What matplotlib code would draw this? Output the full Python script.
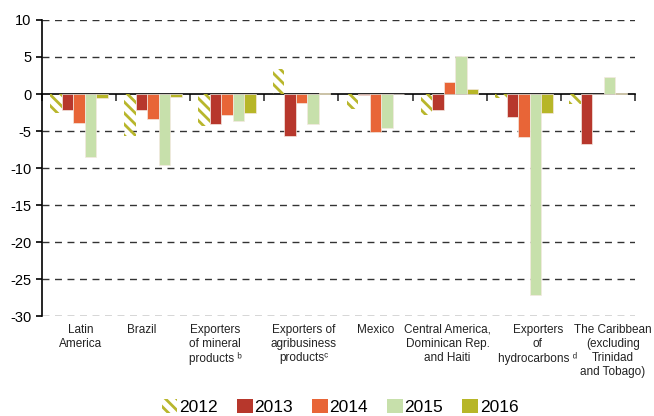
import numpy as np
import matplotlib
matplotlib.use('Agg')
import matplotlib.pyplot as plt
from matplotlib.patches import Patch
from matplotlib.transforms import blended_transform_factory

plt.rcParams['font.family'] = ['Liberation Sans', 'DejaVu Sans']
plt.rcParams['hatch.linewidth'] = 2.0

# categorias (com sobrescritos das notas)
categories = [
    'Latin\nAmerica',
    'Brazil',
    'Exporters\nof mineral\nproducts ᵇ',
    'Exporters of\nagribusiness\nproductsᶜ',
    'Mexico',
    'Central America,\nDominican Rep.\nand Haiti',
    'Exporters\nof\nhydrocarbons ᵈ',
    'The Caribbean\n(excluding\nTrinidad\nand Tobago)',
]
years = ['2012', '2013', '2014', '2015', '2016']

v2012 = [-2.5, -5.7, -4.3, 3.4, -2.0, -2.8, -0.5, -1.3]
v2013 = [-2.2, -2.2, -4.1, -5.7, -0.1, -2.2, -3.1, -6.7]
v2014 = [-3.9, -3.4, -2.9, -1.2, -5.1, 1.6, -5.8, 0.0]
v2015 = [-8.5, -9.6, -3.6, -4.0, -4.6, 5.2, -27.2, 2.3]
v2016 = [-0.6, -0.4, -2.5, 0.1, 0.0, 0.7, -2.5, 0.1]

series = [v2012, v2013, v2014, v2015, v2016]
colors = ['#B8B62C', '#B7372C', '#E86537', '#C7E0AB', '#B7B628']
hatch = '\\\\\\'

# deslocamento horizontal dos rotulos (como no original)
label_shift = [0.02, -0.15, -0.16, 0.03, 0.0, -0.03, 0.19, 0.2]

fig = plt.figure(figsize=(6.54, 4.16), dpi=100)
ax = fig.add_axes([0.064, 0.24, 0.907, 0.712])

x = np.arange(len(categories))
w = 0.155
for i, vals in enumerate(series):
    pos = x + (i - 2) * w
    if i == 0:
        # 2012 com hachura
        ax.bar(pos, vals, w, facecolor='none', edgecolor=colors[0],
               hatch=hatch, linewidth=0, zorder=3)
    else:
        ax.bar(pos, vals, w, color=colors[i], edgecolor='#f4e8e0',
               linewidth=0.5, zorder=3)

ax.set_xlim(-0.5, len(categories) - 0.5)
ax.set_ylim(-30, 10)
ax.set_yticks(np.arange(-30, 11, 5))
ax.set_yticklabels([str(v) for v in range(-30, 11, 5)], fontsize=10.5)

# eixo x na linha do zero
ax.spines['bottom'].set_position(('data', 0))
ax.spines['bottom'].set_linewidth(1.2)
ax.spines['left'].set_linewidth(1.2)
ax.spines['top'].set_visible(False)
ax.spines['right'].set_visible(False)
ax.set_xticks(np.arange(-0.5, len(categories), 1.0))
ax.set_xticklabels([])
ax.tick_params(axis='x', direction='out', length=5, width=1.2, color='#333333')
ax.tick_params(axis='y', direction='out', length=4, width=1.2)

for yv in [10, 5, -5, -10, -15, -20, -25, -30]:
    ax.axhline(yv, color='#333333', linestyle=(0, (5, 4)), linewidth=1.0, zorder=1)

trans = blended_transform_factory(ax.transData, ax.transAxes)
for xi, dx, label in zip(x, label_shift, categories):
    ax.text(xi + dx, -0.025, label, transform=trans, ha='center', va='top',
            fontsize=8.5, linespacing=1.25, color='#222222')

handles = [Patch(facecolor='none', edgecolor=colors[0], hatch=hatch, linewidth=0)]
handles += [Patch(facecolor=c) for c in colors[1:]]
fig.legend(handles, years, loc='lower center', bbox_to_anchor=(0.52, -0.035),
           ncol=5, frameon=False, fontsize=12.5, handlelength=0.9,
           handleheight=0.9, handletextpad=0.1, columnspacing=1.1)

fig.savefig('out.png', dpi=100)
